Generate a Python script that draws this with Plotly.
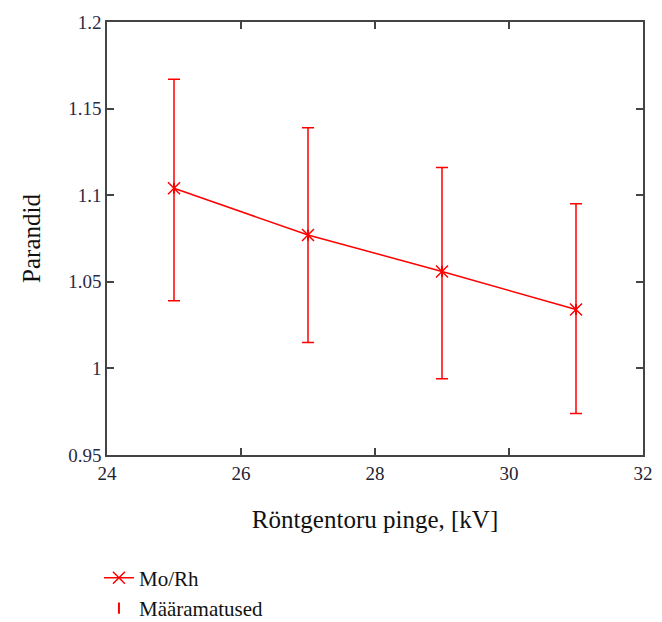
import plotly.graph_objects as go

voltage = [25, 27, 29, 31]
correction = [1.104, 1.077, 1.056, 1.034]
upper = [1.167, 1.139, 1.116, 1.095]
lower = [1.039, 1.015, 0.994, 0.974]

err_plus = [u - c for u, c in zip(upper, correction)]
err_minus = [c - l for c, l in zip(correction, lower)]

RED = "#ff0000"
FONT = "Liberation Serif"

fig = go.Figure()
fig.add_trace(go.Scatter(
    x=voltage, y=correction, mode="lines+markers", name="Mo/Rh",
    line=dict(color=RED, width=1.5),
    marker=dict(symbol="x-thin", size=12, line=dict(color=RED, width=1.5), color=RED),
))
fig.add_trace(go.Scatter(
    x=voltage, y=correction, mode="markers", name="Määramatused",
    marker=dict(symbol="line-ns", size=8, line=dict(color=RED, width=2), color=RED),
    error_y=dict(type="data", symmetric=False, array=err_plus, arrayminus=err_minus,
                 color=RED, thickness=1.5, width=6),
))

axis_common = dict(
    showline=True, linecolor="#444", linewidth=1.5, mirror="ticks",
    ticks="inside", ticklen=7, tickwidth=1.5, tickcolor="#444",
    showgrid=False, zeroline=False,
)

fig.update_layout(
    width=662, height=622,
    margin=dict(l=107, r=19, t=22, b=167, autoexpand=False),
    paper_bgcolor="white", plot_bgcolor="white",
    font=dict(family=FONT, color="#111"),
    xaxis=dict(range=[24, 32], dtick=2, tickfont=dict(family=FONT, size=19, color="#222233"),
               title=dict(text="Röntgentoru pinge, [kV]", font=dict(family=FONT, size=25, color="#111"), standoff=28),
               **axis_common),
    yaxis=dict(range=[0.95, 1.2], dtick=0.05, tickfont=dict(family=FONT, size=19, color="#2a2a44"),
               tickformat="~g",
               title=dict(text="Parandid", font=dict(family=FONT, size=25, color="#111"), standoff=20),
               **axis_common),
    legend=dict(x=-0.015, xanchor="left", y=-0.237, yanchor="top",
                font=dict(size=21, family=FONT, color="#111"),
                bgcolor="rgba(0,0,0,0)", tracegroupgap=0),
    showlegend=True,
)

fig.write_html("out.html")
